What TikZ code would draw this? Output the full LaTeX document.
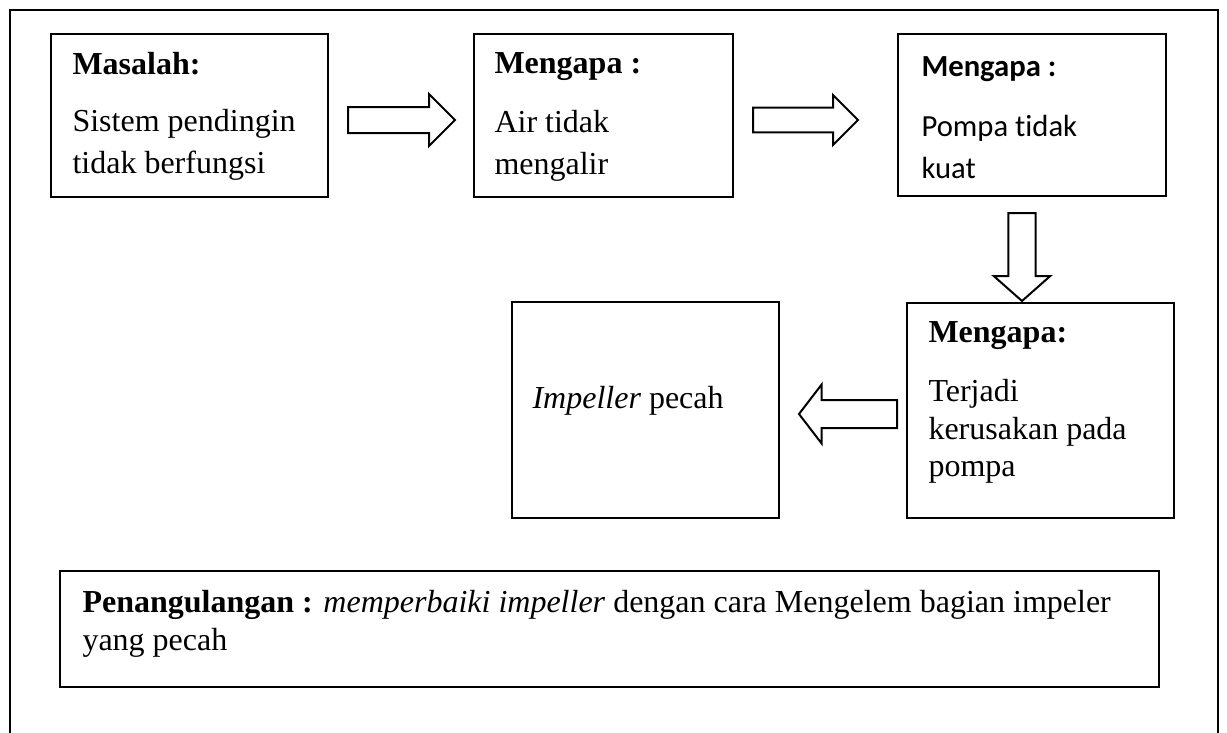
\documentclass[tikz,border=0pt]{standalone}
\usepackage{fontspec}
\setmainfont{Liberation Serif}
\newfontfamily\calibri[Ligatures=NoCommon]{Carlito}
\usetikzlibrary{shapes.arrows}

\tikzset{
    frame/.style={line width=0.75pt},
    box/.style={draw, line width=0.75pt, rectangle, inner sep=0pt, anchor=north west},
    boxsize/.style 2 args={minimum width=#1*0.375pt, minimum height=#2*0.375pt},
    txt/.style={inner sep=0pt, anchor=base west, text width=#1*0.375pt, align=flush left,
        font=\fontsize{12}{15.75}\selectfont},
    txt/.default=240,
    blockarrow/.style={draw, line width=0.75pt, single arrow, anchor=tail,
        inner sep=4.5pt, single arrow head extend=4.875pt}
}

\begin{document}
\begin{tikzpicture}[x=0.375pt, y=-0.375pt]

    % --- Page and outer frame (open at the bottom) ---
    \useasboundingbox (0,0) rectangle (1227,733);
    \draw[frame] (10,733) -- (10,10) -- (1218,10) -- (1218,733);

    % --- Boxes ---
    \node[box, boxsize={277}{163}] (masalah) at (50,33) {};
    \node[box, boxsize={259}{163}] (why1) at (473,33) {};
    \node[box, boxsize={268}{162}] (why2) at (897,33) {};
    \node[box, boxsize={267}{215}] (why3) at (906,302) {};
    \node[box, boxsize={267}{216}] (impeller) at (511,301) {};
    \node[box, boxsize={1099}{116}] (solusi) at (59,570) {};

    % --- Texts in the boxes ---
    \node[txt] (masalahtext) at ([shift={(22,41)}]masalah.north west)
        {\textbf{Masalah:}\\[5.9pt] Sistem pendingin\\ tidak berfungsi};
    \node[txt] (why1text) at ([shift={(21,40)}]why1.north west)
        {\textbf{Mengapa :}\\[6.7pt] Air tidak\\ mengalir};
    \node[txt, font=\calibri\fontsize{11.5}{16}\selectfont] (why2text)
        at ([shift={(24,43)}]why2.north west)
        {\textbf{Mengapa :}\\[6.6pt] Pompa tidak\\ kuat};
    \node[txt, font=\fontsize{12}{14.06}\selectfont] (why3text)
        at ([shift={(22,40)}]why3.north west)
        {\textbf{Mengapa:}\\[8.4pt] Terjadi\\ kerusakan pada\\ pompa};
    \node[txt] (impellertext) at ([shift={(21,107)}]impeller.north west)
        {\textit{Impeller} pecah};
    \node[txt=1060, font=\fontsize{12}{14.25}\selectfont] (solusitext)
        at ([shift={(23,42)}]solusi.north west)
        {\textbf{Penangulangan :} \textit{memperbaiki impeller} dengan cara Mengelem bagian impeler\\ yang pecah};

    % --- Block arrows between the boxes ---
    \node[blockarrow, minimum height=107*0.375pt] (arrowA) at (347,120) {};
    \node[blockarrow, minimum height=105*0.375pt, inner sep=4.3pt,
        single arrow head extend=4.7pt] (arrowB) at (752,120) {};
    \node[blockarrow, minimum height=88*0.375pt, shape border rotate=270,
        inner sep=4.7pt, single arrow head extend=5.44pt,
        single arrow tip angle=97] (arrowC) at (1022,212) {};
    \node[blockarrow, minimum height=98*0.375pt, shape border rotate=180,
        inner sep=4.875pt, single arrow head extend=5.8pt,
        single arrow tip angle=105] (arrowD) at (898,414) {};

\end{tikzpicture}
\end{document}
